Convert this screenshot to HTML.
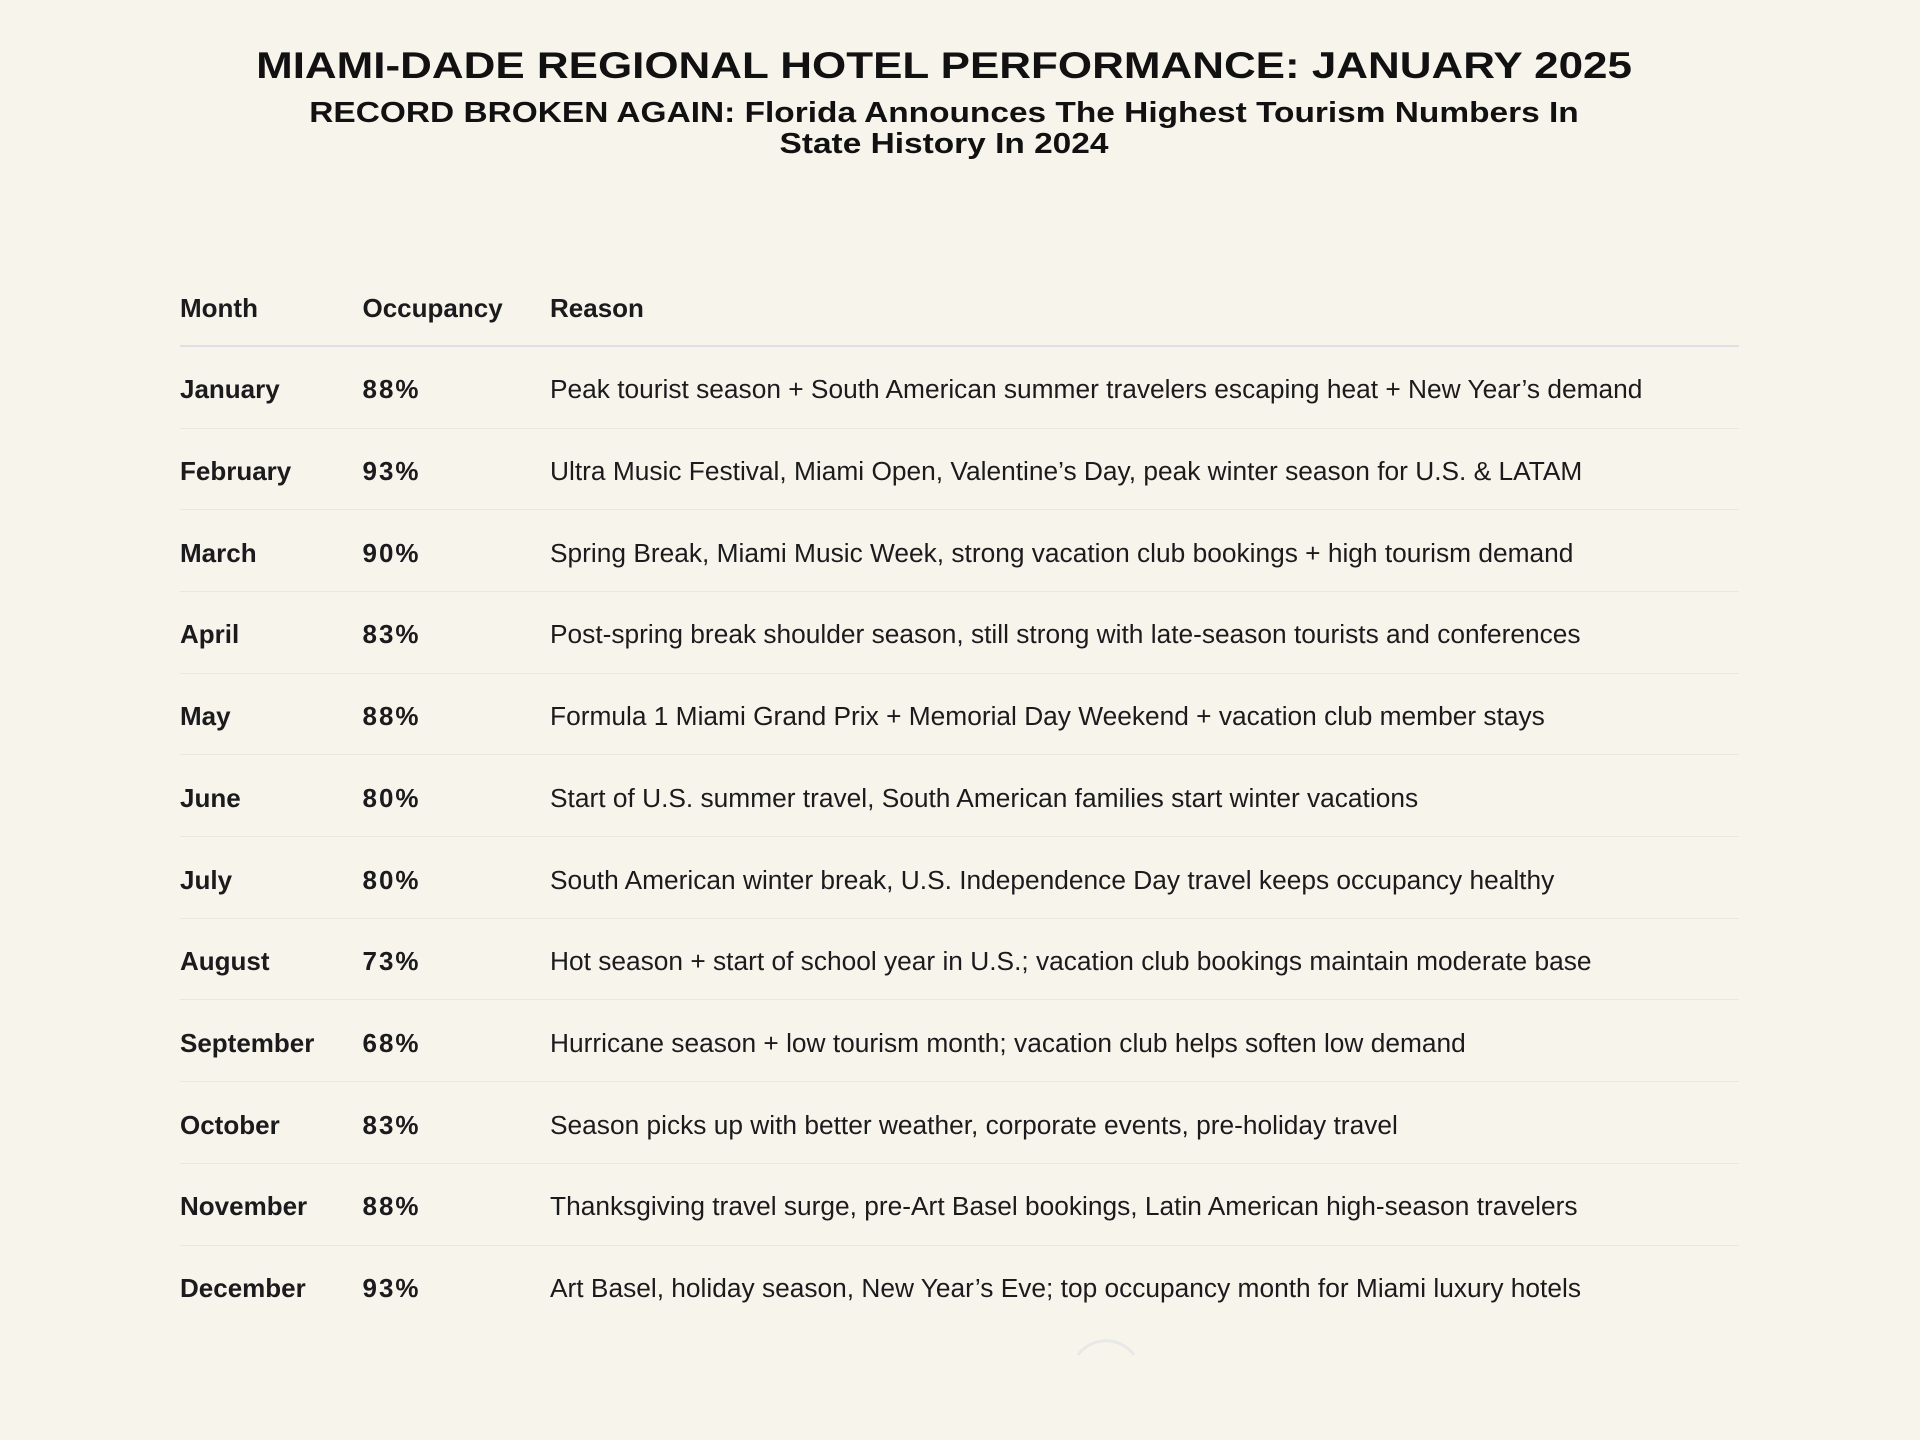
<!DOCTYPE html>
<html>
<head>
<meta charset="utf-8">
<style>
  html, body { margin:0; padding:0; }
  body { width:1920px; height:1440px; background:#f7f4ec; position:relative; overflow:hidden;
         font-family:"Liberation Sans", Arial, sans-serif; color:#1b1b1d; }
  .t { position:absolute; white-space:nowrap; }
  .title { left:943.5px; top:47px; font-size:37px; line-height:37px; font-weight:bold; color:#111;
           transform:translateX(-50%) scaleX(1.188); transform-origin:center; }
  .sub { left:943.5px; font-size:29px; line-height:29px; font-weight:bold; color:#111;
         transform:translateX(-50%) scaleX(1.153); transform-origin:center; }
  .c { font-size:26px; line-height:26px; }
  .r { font-size:26.3px; line-height:26px; }
  .b { font-weight:bold; }
  .p { letter-spacing:2px; }
  .hl { position:absolute; left:180px; width:1559px; height:2px; background:#dfe0e5; }
  .rl { position:absolute; left:180px; width:1559px; height:1px; background:#e9e7e0; }
</style>
</head>
<body>
<div class="t title">MIAMI-DADE REGIONAL HOTEL PERFORMANCE: JANUARY 2025</div>
<div class="t sub" style="top:98.8px;">RECORD BROKEN AGAIN: Florida Announces The Highest Tourism Numbers In</div>
<div class="t sub" style="top:130.3px;">State History In 2024</div>

<!-- header -->
<div class="t c b" style="left:180px; top:294.7px;">Month</div>
<div class="t c b" style="left:362.5px; top:294.7px;">Occupancy</div>
<div class="t c b" style="left:550px; top:294.7px;">Reason</div>
<div class="hl" style="top:345px;"></div>

<!-- rows -->
<div class="t c b" style="left:180px; top:376.3px;">January</div>
<div class="t c b p" style="left:362.5px; top:376.3px;">88%</div>
<div class="t r" style="left:550px; top:376.3px;">Peak tourist season + South American summer travelers escaping heat + New Year’s demand</div>
<div class="rl" style="top:427.5px;"></div>

<div class="t c b" style="left:180px; top:458px;">February</div>
<div class="t c b p" style="left:362.5px; top:458px;">93%</div>
<div class="t r" style="left:550px; top:458px;">Ultra Music Festival, Miami Open, Valentine’s Day, peak winter season for U.S. &amp; LATAM</div>
<div class="rl" style="top:509.2px;"></div>

<div class="t c b" style="left:180px; top:539.7px;">March</div>
<div class="t c b p" style="left:362.5px; top:539.7px;">90%</div>
<div class="t r" style="left:550px; top:539.7px;">Spring Break, Miami Music Week, strong vacation club bookings + high tourism demand</div>
<div class="rl" style="top:590.9px;"></div>

<div class="t c b" style="left:180px; top:621.4px;">April</div>
<div class="t c b p" style="left:362.5px; top:621.4px;">83%</div>
<div class="t r" style="left:550px; top:621.4px;">Post-spring break shoulder season, still strong with late-season tourists and conferences</div>
<div class="rl" style="top:672.6px;"></div>

<div class="t c b" style="left:180px; top:703.1px;">May</div>
<div class="t c b p" style="left:362.5px; top:703.1px;">88%</div>
<div class="t r" style="left:550px; top:703.1px;">Formula 1 Miami Grand Prix + Memorial Day Weekend + vacation club member stays</div>
<div class="rl" style="top:754.3px;"></div>

<div class="t c b" style="left:180px; top:784.8px;">June</div>
<div class="t c b p" style="left:362.5px; top:784.8px;">80%</div>
<div class="t r" style="left:550px; top:784.8px;">Start of U.S. summer travel, South American families start winter vacations</div>
<div class="rl" style="top:836px;"></div>

<div class="t c b" style="left:180px; top:866.5px;">July</div>
<div class="t c b p" style="left:362.5px; top:866.5px;">80%</div>
<div class="t r" style="left:550px; top:866.5px;">South American winter break, U.S. Independence Day travel keeps occupancy healthy</div>
<div class="rl" style="top:917.7px;"></div>

<div class="t c b" style="left:180px; top:948.2px;">August</div>
<div class="t c b p" style="left:362.5px; top:948.2px;">73%</div>
<div class="t r" style="left:550px; top:948.2px;">Hot season + start of school year in U.S.; vacation club bookings maintain moderate base</div>
<div class="rl" style="top:999.4px;"></div>

<div class="t c b" style="left:180px; top:1029.9px;">September</div>
<div class="t c b p" style="left:362.5px; top:1029.9px;">68%</div>
<div class="t r" style="left:550px; top:1029.9px;">Hurricane season + low tourism month; vacation club helps soften low demand</div>
<div class="rl" style="top:1081.1px;"></div>

<div class="t c b" style="left:180px; top:1111.6px;">October</div>
<div class="t c b p" style="left:362.5px; top:1111.6px;">83%</div>
<div class="t r" style="left:550px; top:1111.6px;">Season picks up with better weather, corporate events, pre-holiday travel</div>
<div class="rl" style="top:1162.8px;"></div>

<div class="t c b" style="left:180px; top:1193.3px;">November</div>
<div class="t c b p" style="left:362.5px; top:1193.3px;">88%</div>
<div class="t r" style="left:550px; top:1193.3px;">Thanksgiving travel surge, pre-Art Basel bookings, Latin American high-season travelers</div>
<div class="rl" style="top:1244.5px;"></div>

<div class="t c b" style="left:180px; top:1275px;">December</div>
<div class="t c b p" style="left:362.5px; top:1275px;">93%</div>
<div class="t r" style="left:550px; top:1275px;">Art Basel, holiday season, New Year’s Eve; top occupancy month for Miami luxury hotels</div>

<svg style="position:absolute; left:0; top:0;" width="1920" height="1440">
  <path d="M1078,1355 A34.6,34.6 0 0 1 1134,1355" fill="none" stroke="#e8e8e6" stroke-width="3"/>
</svg>
</body>
</html>
